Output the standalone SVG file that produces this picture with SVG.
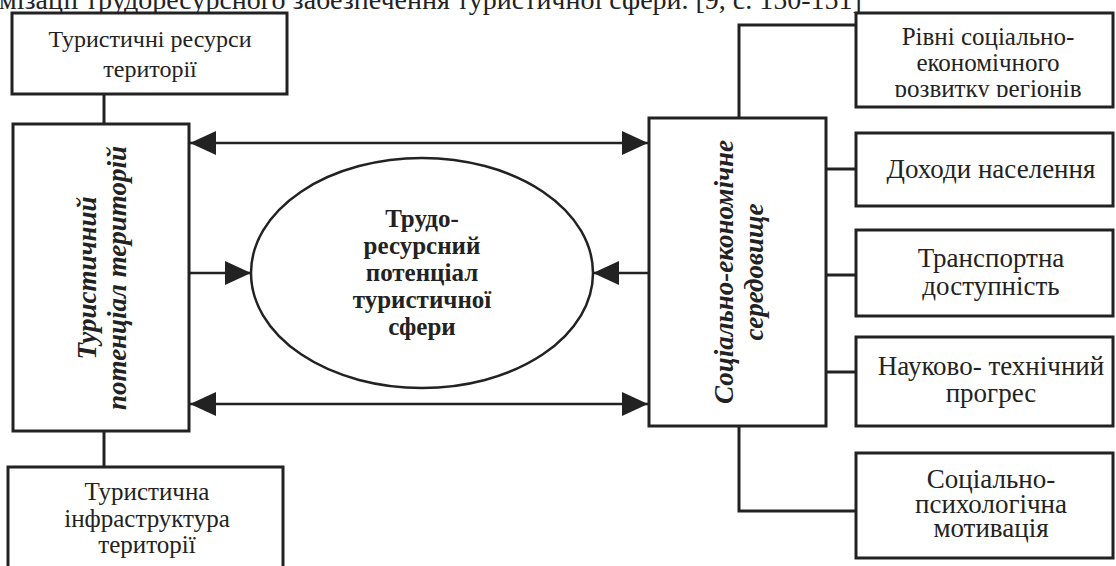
<svg xmlns="http://www.w3.org/2000/svg" width="1116" height="566" viewBox="0 0 1116 566">
<style>
.box{fill:#fff;stroke:#222;stroke-width:3}
.ln{fill:none;stroke:#222;stroke-width:3}
.ar{fill:none;stroke:#222;stroke-width:2.5}
text{font-family:'Liberation Serif','Times New Roman',serif;fill:#222}
.t{font-size:24px;text-anchor:middle}
.t27{font-size:27px;text-anchor:middle}
.bi{font-size:27px;font-weight:bold;font-style:italic;text-anchor:middle}
.b{font-size:25px;font-weight:bold;text-anchor:middle}
.title{font-size:28px}
</style>
<defs>
<marker id="ah" markerUnits="userSpaceOnUse" markerWidth="26" markerHeight="24" refX="26" refY="12" orient="auto-start-reverse" viewBox="0 0 26 24">
<path d="M0,0 L26,12 L0,24 z" fill="#222"/>
</marker>
<clipPath id="clipR"><rect x="856" y="13" width="257" height="84"/></clipPath>
</defs>
<text class="title" x="-1" y="9">мізації трудоресурсного забезпечення туристичної сфери. [9, с. 150-151]</text>
<g id="connectors">
<line class="ln" x1="104" y1="94" x2="104" y2="123"/>
<line class="ln" x1="104" y1="431" x2="104" y2="467"/>
<polyline class="ln" points="856,25 739,25 739,118"/>
<polyline class="ln" points="739,426 739,511 856,511"/>
<line class="ln" x1="826" y1="169" x2="856" y2="169"/>
<line class="ln" x1="826" y1="275" x2="856" y2="275"/>
<line class="ln" x1="826" y1="372" x2="856" y2="372"/>
<line class="ar" x1="190" y1="143" x2="648" y2="143" marker-start="url(#ah)" marker-end="url(#ah)"/>
<line class="ar" x1="190" y1="404" x2="648" y2="404" marker-start="url(#ah)" marker-end="url(#ah)"/>
<line class="ar" x1="190" y1="273" x2="251" y2="273" marker-end="url(#ah)"/>
<line class="ar" x1="648" y1="273" x2="593" y2="273" marker-end="url(#ah)"/>
</g>
<g id="n-resources">
<rect class="box" x="12" y="13" width="275" height="81"/>
<text class="t" x="150" y="47">Туристичні ресурси</text>
<text class="t" x="150" y="77">території</text>
</g>
<g id="n-potential">
<rect class="box" x="13" y="124" width="176" height="307"/>
<text class="bi" transform="translate(96,278) rotate(-90)">Туристичний</text>
<text class="bi" transform="translate(126,278) rotate(-90)">потенціал територій</text>
</g>
<g id="n-infra">
<rect class="box" x="8" y="467" width="275" height="110"/>
<text class="t" x="147" y="500" style="font-size:25px">Туристична</text>
<text class="t" x="147" y="527" style="font-size:25px">інфраструктура</text>
<text class="t" x="147" y="553" style="font-size:25px">території</text>
</g>
<g id="n-center">
<ellipse cx="422" cy="273" rx="171" ry="115" fill="#fff" stroke="#222" stroke-width="2.5"/>
<text class="b" x="422" y="227">Трудо-</text>
<text class="b" x="422" y="254">ресурсний</text>
<text class="b" x="422" y="281">потенціал</text>
<text class="b" x="422" y="308">туристичної</text>
<text class="b" x="422" y="335">сфери</text>
</g>
<g id="n-socio">
<rect class="box" x="649" y="118" width="177" height="308"/>
<text class="bi" transform="translate(733,272) rotate(-90)">Соціально-економічне</text>
<text class="bi" transform="translate(763,272) rotate(-90)">середовище</text>
</g>
<g id="n-levels">
<rect class="box" x="856" y="13" width="257" height="94"/>
<g clip-path="url(#clipR)">
<text class="t" x="988" y="45" style="font-size:25px">Рівні соціально-</text>
<text class="t" x="988" y="71" style="font-size:25px">економічного</text>
<text class="t" x="988" y="97" style="font-size:25px">розвитку регіонів</text>
</g>
</g>
<g id="n-income">
<rect class="box" x="856" y="133" width="257" height="73"/>
<text class="t27" x="991" y="178">Доходи населення</text>
</g>
<g id="n-transport">
<rect class="box" x="856" y="230" width="257" height="86"/>
<text class="t27" x="991" y="267">Транспортна</text>
<text class="t27" x="991" y="295">доступність</text>
</g>
<g id="n-science">
<rect class="box" x="856" y="337" width="257" height="89"/>
<text class="t27" x="991" y="375">Науково- технічний</text>
<text class="t27" x="991" y="402">прогрес</text>
</g>
<g id="n-motivation">
<rect class="box" x="856" y="453" width="257" height="105"/>
<text class="t27" x="991" y="488">Соціально-</text>
<text class="t27" x="991" y="513">психологічна</text>
<text class="t27" x="991" y="537">мотивація</text>
</g>
</svg>
